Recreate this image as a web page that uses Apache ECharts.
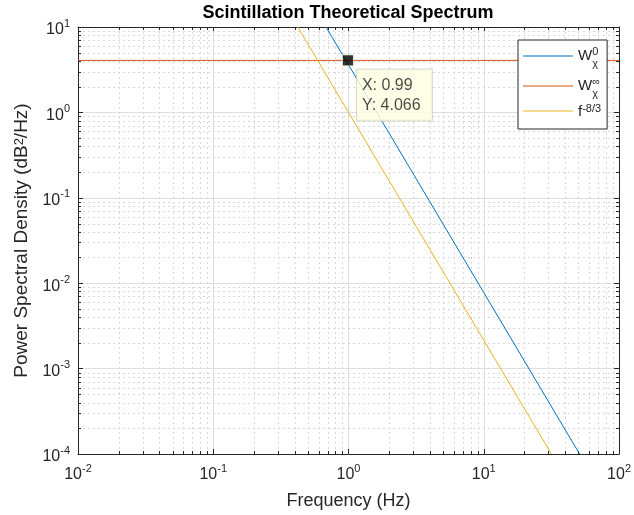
<!DOCTYPE html>
<html><head><meta charset="utf-8">
<script src="https://cdn.jsdelivr.net/npm/echarts@6/dist/echarts.min.js"></script>
<style>html,body{margin:0;padding:0;background:#fff}#c{width:634px;height:515px}</style>
</head><body><div id="c"></div>
<script>
// ---- data ----
const chartTitle = 'Scintillation Theoretical Spectrum';
const xAxisName = 'Frequency (Hz)';
const seriesNames = ['W0', 'Winf', 'f'];
const w0X = [0.682, 1, 10, 51.1];
const w0Y = [10, 3.6, 0.00776, 0.0001];
const winfX = [0.01, 100];
const winfY = [4.066, 4.066];
const fX = [0.422, 1, 10, 31.6];
const fY = [10, 1, 0.00215, 0.0001];
const tipX = 0.99;
const tipY = 4.066;
const xMin = 0.01, xMax = 100, yMin = 0.0001, yMax = 10;
const xMinorTicks = [0.02,0.03,0.04,0.05,0.06,0.07,0.08,0.09,
  0.2,0.3,0.4,0.5,0.6,0.7,0.8,0.9, 2,3,4,5,6,7,8,9, 20,30,40,50,60,70,80,90];
const yMinorTicks = [0.0002,0.0003,0.0004,0.0005,0.0006,0.0007,0.0008,0.0009,
  0.002,0.003,0.004,0.005,0.006,0.007,0.008,0.009,
  0.02,0.03,0.04,0.05,0.06,0.07,0.08,0.09,
  0.2,0.3,0.4,0.5,0.6,0.7,0.8,0.9, 2,3,4,5,6,7,8,9];

const F = '"Liberation Sans", Arial, Helvetica, sans-serif';
const AX = '#262626';
const zip = (a, b) => a.map((v, i) => [v, b[i]]);

const legendText = {
  'W0': '{w|W}{p|0}{q|χ}',
  'Winf': '{w|W}{p|∞}{q|χ}',
  'f': '{f|f}{r|-8/3}'
};

const tickLabel = {
  formatter: v => '{b|10}{s|' + Math.round(Math.log10(v)) + '}',
  rich: {
    b: {fontSize: 16, fontFamily: F, color: AX, padding: [6, 0, 0, 0]},
    s: {fontSize: 11, fontFamily: F, color: AX, verticalAlign: 'top', padding: [2, 0, 0, 0]}
  },
  interval: 0, showMinLabel: true, showMaxLabel: true
};

function logAxis(extra) {
  return Object.assign({
    type: 'log', logBase: 10,
    axisLine: {show: true, onZero: false, lineStyle: {color: AX, width: 1}},
    axisTick: {show: true, inside: true, length: 5, lineStyle: {color: AX, width: 1}},
    splitLine: {show: false},
    minorTick: {show: false}, minorSplitLine: {show: false}
  }, extra);
}

function renderMinor(params, api) {
  const cs = params.coordSys;
  const x0 = cs.x, x1 = cs.x + cs.width, y0 = cs.y, y1 = cs.y + cs.height;
  const kind = api.value(2);
  const grid = {stroke: '#d9d9d9', lineWidth: 1, lineDash: [2, 3]};
  const tick = {stroke: AX, lineWidth: 1};
  if (kind === 0) {
    const x = Math.round(api.coord([api.value(0), 1])[0]) + 0.5;
    return {type: 'group', children: [
      {type: 'line', shape: {x1: x, y1: y0, x2: x, y2: y1}, style: grid},
      {type: 'line', shape: {x1: x, y1: y1, x2: x, y2: y1 - 3}, style: tick},
      {type: 'line', shape: {x1: x, y1: y0, x2: x, y2: y0 + 3}, style: tick}
    ]};
  }
  const y = Math.round(api.coord([1, api.value(1)])[1]) + 0.5;
  return {type: 'group', children: [
    {type: 'line', shape: {x1: x0, y1: y, x2: x1, y2: y}, style: grid},
    {type: 'line', shape: {x1: x0, y1: y, x2: x0 + 3, y2: y}, style: tick},
    {type: 'line', shape: {x1: x1, y1: y, x2: x1 - 3, y2: y}, style: tick}
  ]};
}

const minorData = xMinorTicks.map(v => [v, 1, 0]).concat(yMinorTicks.map(v => [1, v, 1]));

const chart = echarts.init(document.getElementById('c'), null, {renderer: 'canvas'});
chart.setOption({
  animation: false,
  backgroundColor: '#fff',
  title: {
    text: chartTitle, left: 348, top: 4, textAlign: 'center', padding: 0,
    textStyle: {fontSize: 18, fontWeight: 'bold', fontFamily: F, color: '#000'}
  },
  grid: {left: 78, right: 12, top: 27, bottom: 61, containLabel: false},
  legend: {
    data: seriesNames, orient: 'vertical', left: 518, top: 40,
    icon: 'rect', itemWidth: 50, itemHeight: 1, itemGap: 4,
    padding: [3, 6, 10, 5],
    backgroundColor: '#fff', borderColor: AX, borderWidth: 1,
    selectedMode: false,
    formatter: n => legendText[n],
    textStyle: {
      fontFamily: F, color: AX,
      rich: {
        w: {fontSize: 15, fontFamily: F, color: AX, lineHeight: 26, padding: [5, 0, 6, 0]},
        p: {fontSize: 11, fontFamily: F, color: AX, verticalAlign: 'top', padding: [3, 0, 0, 0], width: 0},
        q: {fontSize: 11, fontFamily: F, color: AX, verticalAlign: 'bottom'},
        f: {fontSize: 15, fontFamily: F, color: AX, lineHeight: 16, padding: [1, 0, 0, 0]},
        r: {fontSize: 11, fontFamily: F, color: AX, verticalAlign: 'top', padding: [0, 0, 0, 0]}
      }
    }
  },
  xAxis: [
    logAxis({
      position: 'bottom', min: xMin, max: xMax, splitNumber: 4,
      axisLabel: Object.assign({margin: 7}, tickLabel),
      splitLine: {show: true, lineStyle: {color: '#dfdfdf', width: 1}},
      name: xAxisName, nameLocation: 'middle', nameGap: 38,
      nameTextStyle: {fontSize: 18, fontFamily: F, color: AX}
    }),
    logAxis({position: 'top', min: xMin, max: xMax, splitNumber: 4, axisLabel: {show: false}})
  ],
  yAxis: [
    logAxis({
      position: 'left', min: yMin, max: yMax, splitNumber: 5,
      axisLabel: Object.assign({margin: 8}, tickLabel),
      splitLine: {show: true, lineStyle: {color: '#dfdfdf', width: 1}},
      name: 'Power Spectral Density (dB{s|2}/Hz)', nameLocation: 'middle', nameGap: 45, nameRotate: 90,
      nameTextStyle: {
        fontSize: 19, fontFamily: F, color: AX,
        rich: {
          s: {fontSize: 13, fontFamily: F, color: AX, verticalAlign: 'top'}
        }
      }
    }),
    logAxis({position: 'right', min: yMin, max: yMax, splitNumber: 5, axisLabel: {show: false}})
  ],
  series: [
    {
      type: 'custom', name: 'minor', renderItem: renderMinor, data: minorData,
      xAxisIndex: 0, yAxisIndex: 0, z: 1, silent: true, clip: false
    },
    {
      type: 'line', name: 'W0', data: zip(w0X, w0Y), showSymbol: false, symbol: 'none',
      lineStyle: {color: '#0072BD', width: 1}, itemStyle: {color: '#0072BD'}, z: 3
    },
    {
      type: 'line', name: 'Winf', data: zip(winfX, winfY), showSymbol: false, symbol: 'none',
      lineStyle: {color: '#D95319', width: 1}, itemStyle: {color: '#D95319'}, z: 3
    },
    {
      type: 'line', name: 'f', data: zip(fX, fY), showSymbol: false, symbol: 'none',
      lineStyle: {color: '#EDB120', width: 1}, itemStyle: {color: '#EDB120'}, z: 3
    },
    {
      type: 'scatter', name: 'datatip', data: [[tipX, tipY]], symbol: 'rect', symbolSize: 11,
      itemStyle: {color: '#000', borderColor: '#f4f4d0', borderWidth: 1}, z: 10,
      label: {
        show: true, position: 'right', distance: 0, offset: [3, 9],
        align: 'left', verticalAlign: 'top',
        formatter: p => 'X: ' + p.value[0] + '\nY: ' + p.value[1],
        fontSize: 16, fontFamily: F, color: '#1a1a1a', lineHeight: 20,
        backgroundColor: '#ffffe1', borderColor: '#cfcfbf', borderWidth: 1,
        padding: [6, 10, 5, 5], width: 60
      }
    }
  ]
});
</script>
</body></html>
